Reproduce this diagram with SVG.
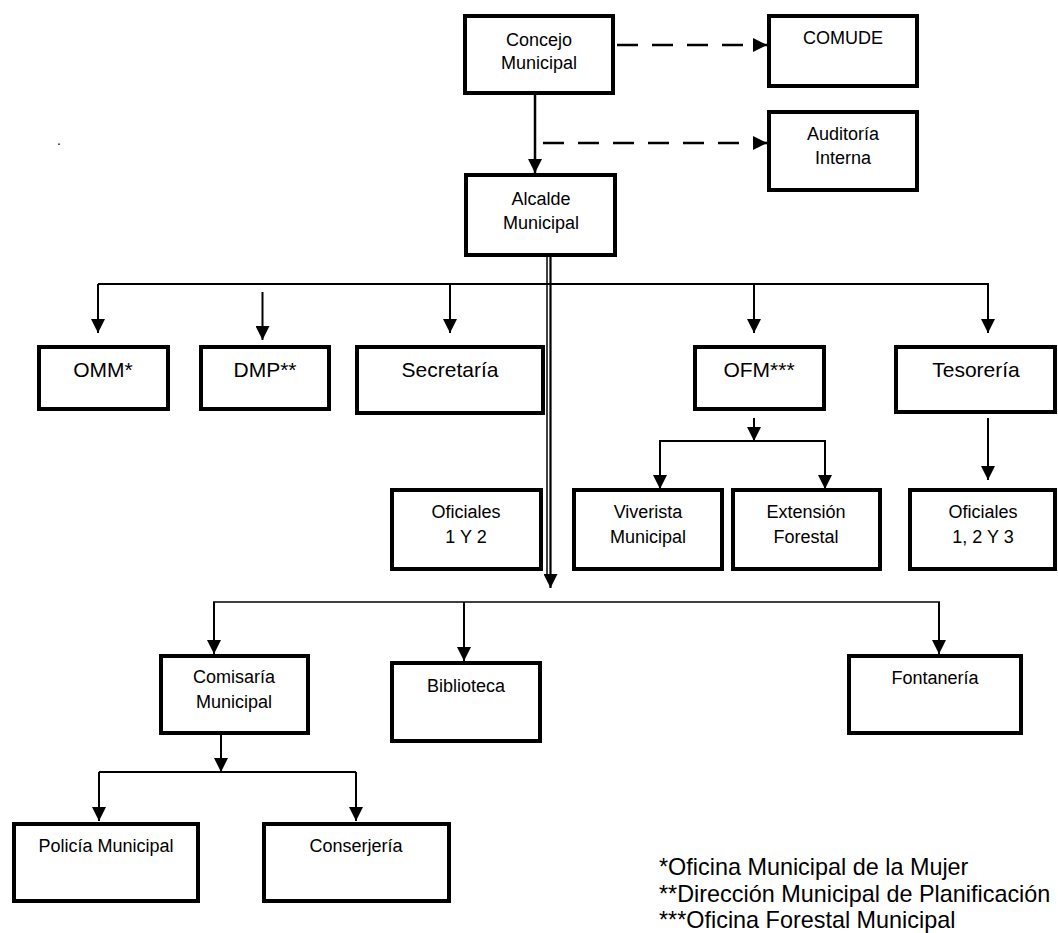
<svg xmlns="http://www.w3.org/2000/svg" width="1058" height="933" viewBox="0 0 1058 933">
<defs>
<marker id="ah" markerUnits="userSpaceOnUse" markerWidth="14" markerHeight="14" refX="14" refY="7" orient="auto"><path d="M0,0 L14,7 L0,14 z" fill="#000"/></marker>
<style>
.b{fill:#fff;stroke:#000;stroke-width:4}
.t{font-family:"Liberation Sans",Arial,sans-serif;font-size:18px;fill:#000;text-anchor:middle}
.T{font-family:"Liberation Sans",Arial,sans-serif;font-size:21px;fill:#000;text-anchor:middle}
.f{font-family:"Liberation Sans",Arial,sans-serif;font-size:23.4px;fill:#000}
.c{fill:none;stroke:#000;stroke-width:2}
.a{fill:none;stroke:#000;stroke-width:2;marker-end:url(#ah)}
.d{fill:none;stroke:#000;stroke-width:2.6;stroke-dasharray:21 14;marker-end:url(#ah)}
</style>
</defs>
<rect width="1058" height="933" fill="#fff"/>
<g id="connectors">
<line class="d" x1="617" y1="45" x2="767" y2="45"/>
<line class="d" x1="543" y1="143" x2="767" y2="143"/>
<line class="a" x1="535" y1="95" x2="535" y2="173" style="stroke-width:2.5"/>
<line class="c" x1="547" y1="248" x2="547" y2="575" style="stroke-width:1.5"/>
<line class="a" x1="550.5" y1="248" x2="550.5" y2="588" style="stroke-width:2.2"/>
<line class="c" x1="98" y1="284" x2="989" y2="284"/>
<line class="a" x1="98" y1="284" x2="98" y2="333"/>
<line class="a" x1="262.5" y1="292" x2="262.5" y2="340"/>
<line class="a" x1="450" y1="284" x2="450" y2="333"/>
<line class="a" x1="754" y1="284" x2="754" y2="333"/>
<line class="a" x1="988" y1="284" x2="988" y2="333"/>
<line class="a" x1="754" y1="418" x2="754" y2="441"/>
<polyline class="c" points="660,488 660,441 825,441 825,488"/>
<line class="a" x1="660" y1="441" x2="660" y2="489"/>
<line class="a" x1="825" y1="441" x2="825" y2="489"/>
<line class="a" x1="988" y1="418" x2="988" y2="480"/>
<line class="c" x1="213" y1="602" x2="940" y2="602" style="stroke-width:1.6"/>
<line class="a" x1="214" y1="602" x2="214" y2="654"/>
<line class="a" x1="464" y1="602" x2="464" y2="661"/>
<line class="a" x1="939" y1="602" x2="939" y2="654"/>
<line class="a" x1="221" y1="735" x2="221" y2="772"/>
<line class="c" x1="99" y1="772" x2="356" y2="772"/>
<line class="a" x1="99" y1="772" x2="99" y2="821"/>
<line class="a" x1="356" y1="772" x2="356" y2="821"/>
</g>
<g id="concejo"><rect class="b" x="465" y="16" width="148" height="77"/><text class="t" x="539" y="46">Concejo</text><text class="t" x="539" y="69">Municipal</text></g>
<g id="comude"><rect class="b" x="769" y="16" width="148" height="70"/><text class="t" x="843" y="44">COMUDE</text></g>
<g id="auditoria"><rect class="b" x="769" y="112" width="148" height="78"/><text class="t" x="843" y="140">Auditoría</text><text class="t" x="843" y="164">Interna</text></g>
<g id="alcalde"><rect class="b" x="466" y="175" width="149" height="80"/><text class="t" x="541" y="205">Alcalde</text><text class="t" x="541" y="229">Municipal</text></g>
<g id="omm"><rect class="b" x="39" y="347" width="129" height="62"/><text class="T" x="103" y="377">OMM*</text></g>
<g id="dmp"><rect class="b" x="201" y="347" width="128" height="62"/><text class="T" x="265" y="377">DMP**</text></g>
<g id="secretaria"><rect class="b" x="357" y="347" width="186" height="66"/><text class="T" x="450" y="377">Secretaría</text></g>
<g id="ofm"><rect class="b" x="695" y="347" width="129" height="62"/><text class="T" x="759" y="377">OFM***</text></g>
<g id="tesoreria"><rect class="b" x="896" y="347" width="159" height="65"/><text class="T" x="976" y="377">Tesorería</text></g>
<g id="oficiales12"><rect class="b" x="392" y="490" width="149" height="79"/><text class="t" x="466" y="518">Oficiales</text><text class="t" x="466" y="543">1 Y 2</text></g>
<g id="viverista"><rect class="b" x="574" y="490" width="148" height="79"/><text class="t" x="648" y="518">Viverista</text><text class="t" x="648" y="543">Municipal</text></g>
<g id="extension"><rect class="b" x="733" y="490" width="147" height="79"/><text class="t" x="806" y="518">Extensión</text><text class="t" x="806" y="543">Forestal</text></g>
<g id="oficiales123"><rect class="b" x="910" y="490" width="145" height="79"/><text class="t" x="983" y="518">Oficiales</text><text class="t" x="983" y="543">1, 2 Y 3</text></g>
<g id="comisaria"><rect class="b" x="161" y="656" width="147" height="77"/><text class="t" x="234" y="683">Comisaría</text><text class="t" x="234" y="708">Municipal</text></g>
<g id="biblioteca"><rect class="b" x="392" y="663" width="148" height="78"/><text class="t" x="466" y="692">Biblioteca</text></g>
<g id="fontaneria"><rect class="b" x="849" y="656" width="172" height="77"/><text class="t" x="935" y="684">Fontanería</text></g>
<g id="policia"><rect class="b" x="14" y="824" width="184" height="77"/><text class="t" x="106" y="852">Policía Municipal</text></g>
<g id="conserjeria"><rect class="b" x="264" y="824" width="185" height="77"/><text class="t" x="356" y="852">Conserjería</text></g>
<g id="notes">
<text class="f" x="659" y="875">*Oficina Municipal de la Mujer</text>
<text class="f" x="659" y="902">**Dirección Municipal de Planificación</text>
<text class="f" x="659" y="928">***Oficina Forestal Municipal</text>
</g>
<text x="57" y="145" style="font-family:'Liberation Sans',Arial,sans-serif;font-size:14px">.</text>
</svg>
